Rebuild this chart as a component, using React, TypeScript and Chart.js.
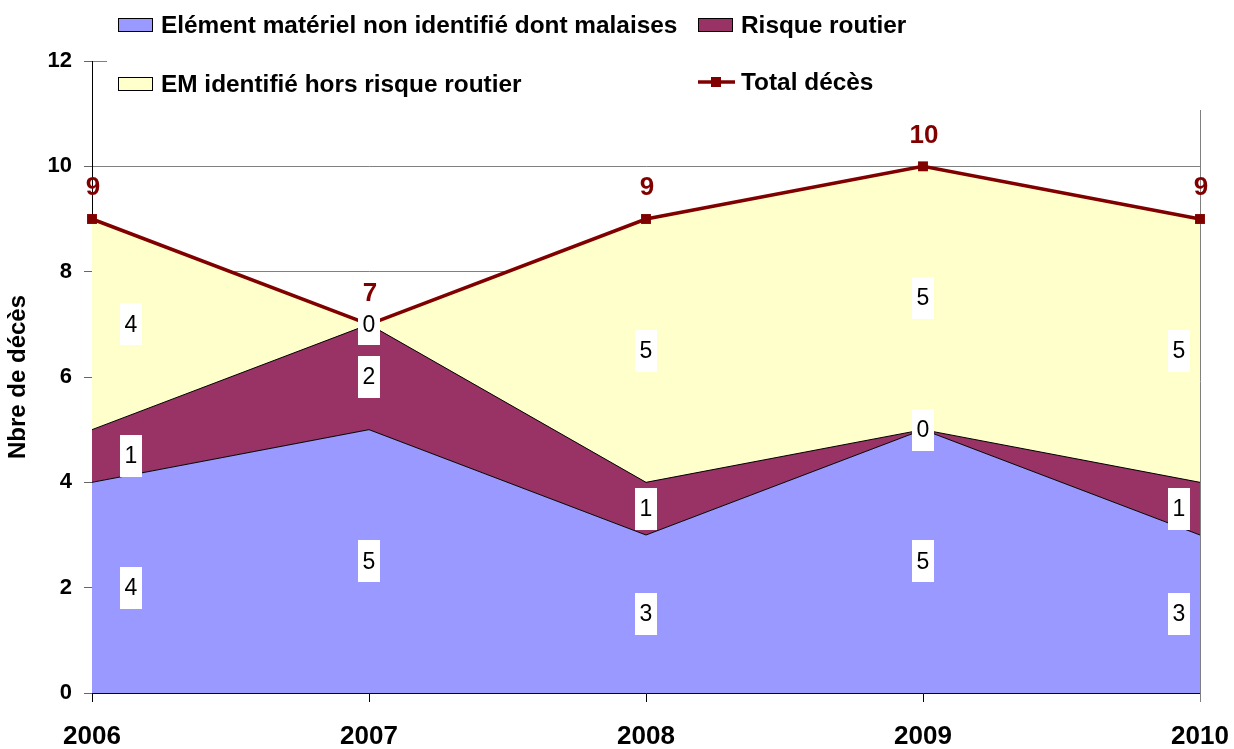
import React, { useEffect, useRef } from 'react';
import { Chart, registerables } from 'chart.js';

Chart.register(...registerables);

const years = ['2006', '2007', '2008', '2009', '2010'];
const emNonIdentifie = [4, 5, 3, 5, 3];
const risqueRoutier = [1, 2, 1, 0, 1];
const emHorsRisque = [4, 0, 5, 5, 5];
const totalDeces = [9, 7, 9, 10, 9];

const seriesNames = [
  'Elément matériel non identifié dont malaises',
  'Risque routier',
  'EM identifié hors risque routier',
  'Total décès',
];
const seriesColors = ['#9999FF', '#993366', '#FFFFCC', '#800000'];
const yAxisTitle = 'Nbre de décès';

const FONT = '"Liberation Sans", Arial, Helvetica, sans-serif';

const customPlugin = {
  id: 'customDraw',
  beforeDatasetsDraw(chart: any) {
    const { ctx, chartArea } = chart;
    ctx.save();
    ctx.strokeStyle = '#808080';
    ctx.lineWidth = 1;
    ctx.beginPath();
    ctx.moveTo(Math.round(chartArea.right) + 0.5, chartArea.top);
    ctx.lineTo(Math.round(chartArea.right) + 0.5, chartArea.bottom + 9);
    ctx.stroke();
    ctx.restore();
  },
  afterDatasetsDraw(chart: any) {
    const { ctx } = chart;
    const xs = chart.scales.x;
    const ys = chart.scales.y;
    const stacks = [emNonIdentifie, risqueRoutier, emHorsRisque];
    const n = years.length;
    ctx.save();
    ctx.font = `23px ${FONT}`;
    ctx.textAlign = 'center';
    ctx.textBaseline = 'middle';
    for (let i = 0; i < n; i++) {
      let base = 0;
      let px = xs.getPixelForValue(i);
      if (i === 0) px += 39;
      else if (i === n - 1) px -= 21;
      for (let s = 0; s < stacks.length; s++) {
        const v = stacks[s][i];
        const mid = base + v / 2;
        const py = ys.getPixelForValue(mid);
        ctx.fillStyle = '#FFFFFF';
        ctx.fillRect(Math.round(px - 11), Math.round(py - 21), 22, 42);
        ctx.fillStyle = '#000000';
        ctx.fillText(String(v), px, py + 1);
        base += v;
      }
    }
    ctx.font = `bold 26px ${FONT}`;
    ctx.fillStyle = '#800000';
    for (let i = 0; i < n; i++) {
      const px = xs.getPixelForValue(i);
      const py = ys.getPixelForValue(totalDeces[i]);
      ctx.fillText(String(totalDeces[i]), px + 1, py - 31);
    }
    ctx.restore();
  },
  afterDraw(chart: any) {
    const { ctx } = chart;
    ctx.save();
    ctx.fillStyle = '#FFFFFF';
    ctx.fillRect(107, 0, 1234 - 107, 110);
    ctx.font = `bold 24.4px ${FONT}`;
    ctx.textBaseline = 'middle';
    ctx.textAlign = 'left';
    const items = [
      { x: 118, y: 25, kind: 'box', color: seriesColors[0], label: seriesNames[0] },
      { x: 698, y: 25, kind: 'box', color: seriesColors[1], label: seriesNames[1] },
      { x: 118, y: 84, kind: 'box', color: seriesColors[2], label: seriesNames[2] },
      { x: 698, y: 82, kind: 'line', color: seriesColors[3], label: seriesNames[3] },
    ];
    for (const it of items) {
      if (it.kind === 'box') {
        ctx.fillStyle = it.color;
        ctx.fillRect(it.x, it.y - 7, 35, 14);
        ctx.strokeStyle = '#000';
        ctx.lineWidth = 1;
        ctx.strokeRect(it.x + 0.5, it.y - 6.5, 34, 13);
      } else {
        ctx.strokeStyle = it.color;
        ctx.lineWidth = 3.5;
        ctx.beginPath();
        ctx.moveTo(it.x, it.y);
        ctx.lineTo(it.x + 37, it.y);
        ctx.stroke();
        ctx.fillStyle = it.color;
        ctx.fillRect(it.x + 13, it.y - 5, 10, 10);
      }
      ctx.fillStyle = '#000';
      ctx.fillText(it.label, it.x + 43, it.y + 1);
    }
    ctx.restore();
  },
};

export default function App() {
  const canvasRef = useRef<HTMLCanvasElement>(null);

  useEffect(() => {
    const canvas = canvasRef.current;
    if (!canvas) return;
    const chart = new Chart(canvas, {
      type: 'line',
      data: {
        labels: years,
        datasets: [
          {
            label: seriesNames[0],
            data: emNonIdentifie,
            backgroundColor: seriesColors[0],
            borderColor: '#000000',
            borderWidth: 1,
            fill: 'origin',
            pointRadius: 0,
            tension: 0,
            stack: 'areas',
            order: 1,
          },
          {
            label: seriesNames[1],
            data: risqueRoutier,
            backgroundColor: seriesColors[1],
            borderColor: '#000000',
            borderWidth: 1,
            fill: '-1',
            pointRadius: 0,
            tension: 0,
            stack: 'areas',
            order: 1,
          },
          {
            label: seriesNames[2],
            data: emHorsRisque,
            backgroundColor: seriesColors[2],
            borderColor: '#000000',
            borderWidth: 0,
            fill: '-1',
            pointRadius: 0,
            tension: 0,
            stack: 'areas',
            order: 1,
          },
          {
            label: seriesNames[3],
            data: totalDeces,
            borderColor: seriesColors[3],
            backgroundColor: seriesColors[3],
            borderWidth: 3.5,
            fill: false,
            pointStyle: 'rect',
            pointRadius: 7,
            pointBackgroundColor: seriesColors[3],
            pointBorderColor: seriesColors[3],
            pointBorderWidth: 0,
            tension: 0,
            stack: 'total',
            order: 0,
          },
        ],
      },
      options: {
        responsive: false,
        animation: false,
        events: [],
        layout: { padding: { left: 0, right: 34, top: 61, bottom: 0 } },
        plugins: {
          legend: { display: false },
          tooltip: { enabled: false },
          filler: { drawTime: 'beforeDatasetsDraw' },
        } as any,
        scales: {
          x: {
            offset: false,
            grid: {
              drawOnChartArea: false,
              tickLength: 9,
              color: '#000',
              tickColor: '#000',
            },
            border: { color: '#000', width: 1 },
            ticks: {
              color: '#000',
              padding: 19,
              maxRotation: 0,
              autoSkip: false,
              font: { family: FONT, size: 26, weight: 'bold' },
            },
            afterFit: (s: any) => {
              s.height = 56;
              s.paddingLeft = 0;
              s.paddingRight = 0;
            },
          },
          y: {
            stacked: true,
            min: 0,
            max: 12,
            grid: { color: '#808080', tickColor: '#666', tickLength: 8, lineWidth: 1 },
            border: { color: '#000', width: 1 },
            ticks: {
              stepSize: 2,
              color: '#000',
              padding: 12,
              font: { family: FONT, size: 22, weight: 'bold' },
            },
            title: {
              display: true,
              text: yAxisTitle,
              color: '#000',
              padding: { top: 4, bottom: 0 },
              font: { family: FONT, size: 24, weight: 'bold' },
            },
            afterFit: (s: any) => {
              s.width = 92;
            },
          },
        },
      } as any,
      plugins: [customPlugin],
    });
    return () => chart.destroy();
  }, []);

  return (
    <div style={{ position: 'fixed', left: 0, top: 0, width: 1234, height: 749, background: '#fff' }}>
      <canvas ref={canvasRef} width={1234} height={749} style={{ width: 1234, height: 749, display: 'block' }} />
    </div>
  );
}
